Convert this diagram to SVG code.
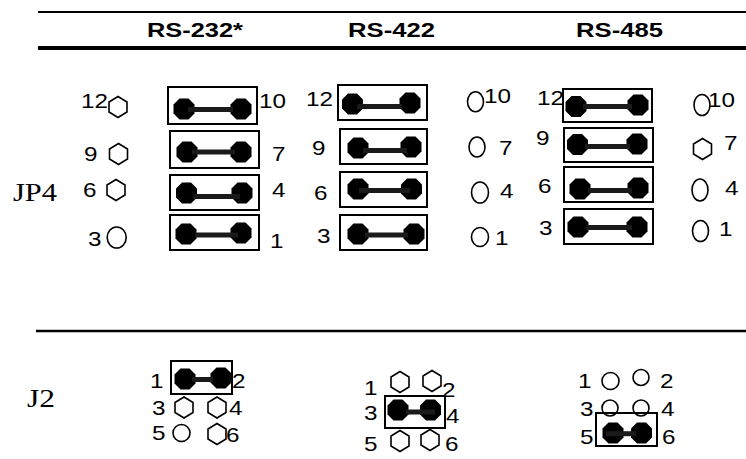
<svg xmlns="http://www.w3.org/2000/svg" xmlns:xlink="http://www.w3.org/1999/xlink" width="746" height="459" viewBox="0 0 746 459">
<style>
.hd{font-family:"Liberation Sans",Arial,sans-serif;font-weight:bold;font-size:20.5px;fill:#000}
.nm{font-family:"Liberation Sans",Arial,sans-serif;font-size:21px;fill:#000}
.lb{font-family:"Liberation Serif","Times New Roman",serif;font-size:26px;fill:#000}
.box{fill:none;stroke:#000;stroke-width:2}
.bar{stroke:#1a1a1a;stroke-width:5;stroke-linecap:butt}
.pin{fill:#000}
.open{fill:#fff;stroke:#000;stroke-width:1.6}
.rule{stroke:#000}
</style>
<defs>
<polygon id="fp" points="-4.5,-10.5 4.5,-10.5 10.5,-4.5 10.5,4.5 4.5,10.5 -4.5,10.5 -10.5,4.5 -10.5,-4.5"/>
<polygon id="hx" points="0,-10.5 9,-5 9,5 0,10.5 -9,5 -9,-5"/>
</defs>
<rect width="746" height="459" fill="#fff"/>
<g id="rules">
<line class="rule" x1="38" y1="12" x2="746" y2="12" stroke-width="2"/>
<line class="rule" x1="38" y1="48" x2="746" y2="48" stroke-width="4"/>
<line class="rule" x1="36" y1="331" x2="746" y2="331" stroke-width="2.5"/>
</g>
<g id="headers">
<text class="hd" x="147" y="37" textLength="96" lengthAdjust="spacingAndGlyphs">RS-232*</text>
<text class="hd" x="348" y="37" textLength="87" lengthAdjust="spacingAndGlyphs">RS-422</text>
<text class="hd" x="576" y="37" textLength="87" lengthAdjust="spacingAndGlyphs">RS-485</text>
</g>
<g id="jp4-label"><text class="lb" x="13" y="201" textLength="44" lengthAdjust="spacingAndGlyphs">JP4</text></g>
<g id="j2-label"><text class="lb" x="27" y="407" textLength="28" lengthAdjust="spacingAndGlyphs">J2</text></g>

<g id="jp4-rs232">
<text class="nm" x="81" y="108" textLength="27" lengthAdjust="spacingAndGlyphs">12</text>
<text class="nm" x="84" y="161" textLength="13.5" lengthAdjust="spacingAndGlyphs">9</text>
<text class="nm" x="83" y="197" textLength="13.5" lengthAdjust="spacingAndGlyphs">6</text>
<text class="nm" x="88" y="246" textLength="13.5" lengthAdjust="spacingAndGlyphs">3</text>
<text class="nm" x="259" y="108" textLength="27" lengthAdjust="spacingAndGlyphs">10</text>
<text class="nm" x="272" y="161" textLength="13.5" lengthAdjust="spacingAndGlyphs">7</text>
<text class="nm" x="272" y="197" textLength="13.5" lengthAdjust="spacingAndGlyphs">4</text>
<text class="nm" x="270" y="248" textLength="13.5" lengthAdjust="spacingAndGlyphs">1</text>
<use xlink:href="#hx" class="open" x="118" y="107"/>
<use xlink:href="#hx" class="open" x="118.5" y="154"/>
<use xlink:href="#hx" class="open" x="116" y="190"/>
<ellipse class="open" cx="116.7" cy="237.5" rx="9.5" ry="10.5"/>
<rect class="box" x="168" y="87" width="89" height="37"/>
<rect class="box" x="170" y="131" width="89" height="37"/>
<rect class="box" x="170" y="175" width="89" height="35"/>
<rect class="box" x="170" y="215" width="89" height="35"/>
<use xlink:href="#fp" class="pin" x="184" y="109"/><use xlink:href="#fp" class="pin" x="241" y="109"/>
<use xlink:href="#fp" class="pin" x="187" y="152"/><use xlink:href="#fp" class="pin" x="241" y="152"/>
<use xlink:href="#fp" class="pin" x="186.5" y="193"/><use xlink:href="#fp" class="pin" x="242" y="193"/>
<use xlink:href="#fp" class="pin" x="186" y="234"/><use xlink:href="#fp" class="pin" x="241" y="233"/>
<line class="bar" x1="188" y1="109.5" x2="233" y2="109.5" stroke-width="3.5"/>
<line class="bar" x1="192" y1="152" x2="235" y2="152" stroke-width="6"/>
<line class="bar" x1="193" y1="196.5" x2="240" y2="196.5"/>
<line class="bar" x1="195" y1="235" x2="238" y2="235" stroke-width="6"/>
</g>

<g id="jp4-rs422">
<text class="nm" x="306" y="106" textLength="27" lengthAdjust="spacingAndGlyphs">12</text>
<text class="nm" x="312" y="155" textLength="13.5" lengthAdjust="spacingAndGlyphs">9</text>
<text class="nm" x="314" y="200" textLength="13.5" lengthAdjust="spacingAndGlyphs">6</text>
<text class="nm" x="317" y="243" textLength="13.5" lengthAdjust="spacingAndGlyphs">3</text>
<rect class="box" x="338" y="85" width="89" height="35"/>
<rect class="box" x="340" y="129" width="87" height="35"/>
<rect class="box" x="340" y="172" width="87" height="35"/>
<rect class="box" x="340" y="215" width="87" height="35"/>
<use xlink:href="#fp" class="pin" x="352.5" y="104"/><use xlink:href="#fp" class="pin" x="410" y="103"/>
<use xlink:href="#fp" class="pin" x="358" y="148"/><use xlink:href="#fp" class="pin" x="411" y="147"/>
<use xlink:href="#fp" class="pin" x="358" y="189"/><use xlink:href="#fp" class="pin" x="411.5" y="189"/>
<use xlink:href="#fp" class="pin" x="358" y="234"/><use xlink:href="#fp" class="pin" x="414" y="234"/>
<line class="bar" x1="357" y1="106.5" x2="402" y2="106.5"/>
<line class="bar" x1="363" y1="150.5" x2="407" y2="150.5"/>
<line class="bar" x1="359" y1="190.5" x2="410" y2="190.5"/>
<line class="bar" x1="365" y1="235" x2="408" y2="235"/>
<ellipse class="open" cx="475.5" cy="101.7" rx="8" ry="10"/>
<ellipse class="open" cx="477" cy="147" rx="8" ry="10"/>
<ellipse class="open" cx="480" cy="192.5" rx="8.5" ry="10.5"/>
<ellipse class="open" cx="480" cy="237" rx="8.5" ry="9.5"/>
<text class="nm" x="484" y="103" textLength="27" lengthAdjust="spacingAndGlyphs">10</text>
<text class="nm" x="499" y="155" textLength="13.5" lengthAdjust="spacingAndGlyphs">7</text>
<text class="nm" x="500" y="198" textLength="13.5" lengthAdjust="spacingAndGlyphs">4</text>
<text class="nm" x="495" y="245" textLength="13.5" lengthAdjust="spacingAndGlyphs">1</text>
</g>

<g id="jp4-rs485">
<text class="nm" x="537" y="105" textLength="27" lengthAdjust="spacingAndGlyphs">12</text>
<text class="nm" x="536" y="145" textLength="13.5" lengthAdjust="spacingAndGlyphs">9</text>
<text class="nm" x="538" y="193" textLength="13.5" lengthAdjust="spacingAndGlyphs">6</text>
<text class="nm" x="539" y="235" textLength="13.5" lengthAdjust="spacingAndGlyphs">3</text>
<rect class="box" x="563" y="89" width="89" height="33"/>
<rect class="box" x="564" y="128" width="89" height="34"/>
<rect class="box" x="564" y="167" width="89" height="35"/>
<rect class="box" x="564" y="209" width="89" height="35"/>
<use xlink:href="#fp" class="pin" x="576" y="106.5"/><use xlink:href="#fp" class="pin" x="638" y="105"/>
<use xlink:href="#fp" class="pin" x="577.5" y="144.5"/><use xlink:href="#fp" class="pin" x="637" y="144"/>
<use xlink:href="#fp" class="pin" x="580" y="189"/><use xlink:href="#fp" class="pin" x="638" y="188"/>
<use xlink:href="#fp" class="pin" x="578" y="227"/><use xlink:href="#fp" class="pin" x="637" y="227"/>
<line class="bar" x1="583" y1="106.5" x2="632" y2="106.5"/>
<line class="bar" x1="585" y1="146.5" x2="630" y2="146.5"/>
<line class="bar" x1="588" y1="190.5" x2="632" y2="190.5"/>
<line class="bar" x1="586" y1="227.5" x2="632" y2="227.5"/>
<ellipse class="open" cx="702" cy="105" rx="8" ry="10.5"/>
<use xlink:href="#hx" class="open" x="702.5" y="149"/>
<ellipse class="open" cx="700" cy="190" rx="8" ry="11"/>
<ellipse class="open" cx="700.5" cy="231" rx="8" ry="10.5"/>
<text class="nm" x="708" y="107" textLength="27" lengthAdjust="spacingAndGlyphs">10</text>
<text class="nm" x="724" y="150" textLength="13.5" lengthAdjust="spacingAndGlyphs">7</text>
<text class="nm" x="725" y="195" textLength="13.5" lengthAdjust="spacingAndGlyphs">4</text>
<text class="nm" x="719" y="236" textLength="13.5" lengthAdjust="spacingAndGlyphs">1</text>
</g>

<g id="j2-rs232">
<rect class="box" x="171" y="361" width="61" height="33"/>
<use xlink:href="#fp" class="pin" x="185" y="379"/><use xlink:href="#fp" class="pin" x="221" y="378"/>
<line class="bar" x1="192" y1="379.5" x2="213" y2="379.5" stroke-width="4.5"/>
<text class="nm" x="150" y="388" textLength="13.5" lengthAdjust="spacingAndGlyphs">1</text>
<text class="nm" x="232" y="388" textLength="13.5" lengthAdjust="spacingAndGlyphs">2</text>
<text class="nm" x="152" y="415" textLength="13.5" lengthAdjust="spacingAndGlyphs">3</text>
<text class="nm" x="229" y="415" textLength="13.5" lengthAdjust="spacingAndGlyphs">4</text>
<text class="nm" x="152" y="440" textLength="13.5" lengthAdjust="spacingAndGlyphs">5</text>
<text class="nm" x="226" y="442" textLength="13.5" lengthAdjust="spacingAndGlyphs">6</text>
<use xlink:href="#hx" class="open" x="184" y="407.5"/>
<use xlink:href="#hx" class="open" x="217" y="407.5"/>
<ellipse class="open" cx="181.5" cy="433" rx="8.5" ry="8.5"/>
<use xlink:href="#hx" class="open" x="217" y="434"/>
</g>

<g id="j2-rs422">
<text class="nm" x="364" y="395" textLength="13.5" lengthAdjust="spacingAndGlyphs">1</text>
<use xlink:href="#hx" class="open" x="400" y="382"/>
<use xlink:href="#hx" class="open" x="432" y="381"/>
<text class="nm" x="442" y="397" textLength="13.5" lengthAdjust="spacingAndGlyphs">2</text>
<rect class="box" x="385" y="396" width="60" height="32"/>
<text class="nm" x="364" y="420" textLength="13.5" lengthAdjust="spacingAndGlyphs">3</text>
<use xlink:href="#fp" class="pin" x="398" y="410"/><use xlink:href="#fp" class="pin" x="430.5" y="410"/>
<line class="bar" x1="406" y1="412" x2="435" y2="412" stroke-width="6"/>
<text class="nm" x="446" y="423" textLength="13.5" lengthAdjust="spacingAndGlyphs">4</text>
<text class="nm" x="364" y="451" textLength="13.5" lengthAdjust="spacingAndGlyphs">5</text>
<use xlink:href="#hx" class="open" x="400" y="441"/>
<use xlink:href="#hx" class="open" x="430" y="440"/>
<text class="nm" x="445" y="451" textLength="13.5" lengthAdjust="spacingAndGlyphs">6</text>
</g>

<g id="j2-rs485">
<text class="nm" x="578" y="388" textLength="13.5" lengthAdjust="spacingAndGlyphs">1</text>
<ellipse class="open" cx="610.5" cy="381" rx="8.5" ry="8.5"/>
<ellipse class="open" cx="641" cy="377.5" rx="8" ry="8"/>
<text class="nm" x="660" y="388" textLength="13.5" lengthAdjust="spacingAndGlyphs">2</text>
<text class="nm" x="580" y="416" textLength="13.5" lengthAdjust="spacingAndGlyphs">3</text>
<ellipse class="open" cx="610" cy="408" rx="8" ry="8"/>
<ellipse class="open" cx="641" cy="408" rx="8" ry="8"/>
<text class="nm" x="661" y="416" textLength="13.5" lengthAdjust="spacingAndGlyphs">4</text>
<rect class="box" x="596" y="413" width="61" height="33"/>
<text class="nm" x="580" y="444" textLength="13.5" lengthAdjust="spacingAndGlyphs">5</text>
<use xlink:href="#fp" class="pin" x="613" y="433"/><use xlink:href="#fp" class="pin" x="641.5" y="433"/>
<line class="bar" x1="606" y1="433.7" x2="636" y2="433.7" stroke-width="4"/>
<text class="nm" x="662" y="444" textLength="13.5" lengthAdjust="spacingAndGlyphs">6</text>
</g>
<g id="connectors"/>
</svg>
